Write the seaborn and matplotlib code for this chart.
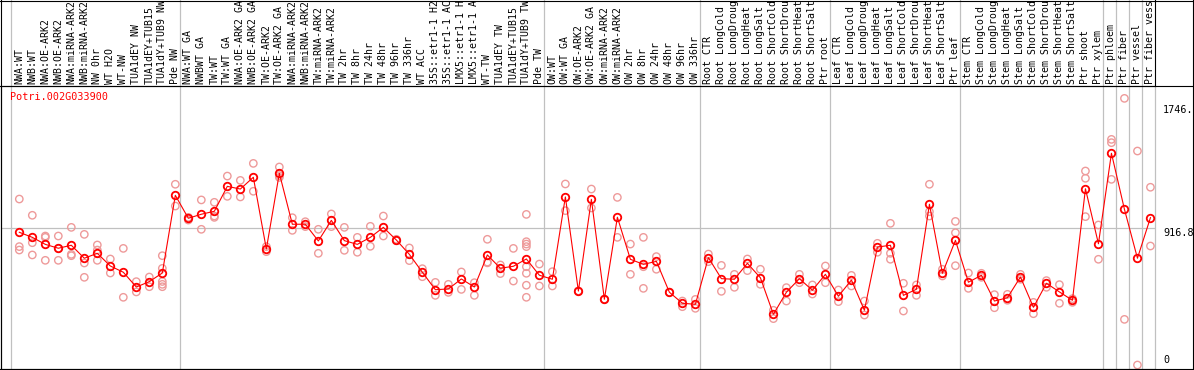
import matplotlib
matplotlib.use('Agg')
import matplotlib.pyplot as plt
import seaborn as sns
import pandas as pd
from matplotlib.lines import Line2D

gene = 'Potri.002G033900'

# sample names as far as they are visible above the plot
labels = [
    'NWA:WT', 'NWB:WT', 'NWA:OE-ARK2', 'NWB:OE-ARK2', 'NWA:miRNA-ARK2', 'NWB:miRNA-ARK2',
    'NW 0hr', 'WT H2O', 'WT-NW', 'TUA1dEY NW', 'TUA1dEY+TUB15', 'TUA1dY+TUB9 NW', 'Pde NW',
    'NWA:WT GA', 'NWBWT GA', 'TW:WT', 'TW:WT GA', 'NWA:OE-ARK2 GA', 'NWB:OE-ARK2 GA',
    'TW:OE-ARK2', 'TW:OE-ARK2 GA', 'NWA:miRNA-ARK2', 'NWB:miRNA-ARK2', 'TW:miRNA-ARK2',
    'TW:miRNA-ARK2', 'TW 2hr', 'TW 8hr', 'TW 24hr', 'TW 48hr', 'TW 96hr', 'TW 336hr',
    'WT ACC', '35S::etr1-1 H2', '35S::etr1-1 AC', 'LMX5::etr1-1 H', 'LMX5::etr1-1 A',
    'WT-TW', 'TUA1dEY TW', 'TUA1dEY+TUB15', 'TUA1dY+TUB9 TW', 'Pde TW',
    'OW:WT', 'OW:WT GA', 'OW:OE-ARK2', 'OW:OE-ARK2 GA', 'OW:miRNA-ARK2', 'OW:miRNA-ARK2',
    'OW 2hr', 'OW 8hr', 'OW 24hr', 'OW 48hr', 'OW 96hr', 'OW 336hr',
    'Root CTR', 'Root LongCold', 'Root LongDroug', 'Root LongHeat', 'Root LongSalt',
    'Root ShortCold', 'Root ShortDrou', 'Root ShortHeat', 'Root ShortSalt', 'Ptr root',
    'Leaf CTR', 'Leaf LongCold', 'Leaf LongDroug', 'Leaf LongHeat', 'Leaf LongSalt',
    'Leaf ShortCold', 'Leaf ShortDrou', 'Leaf ShortHeat', 'Leaf ShortSalt', 'Ptr leaf',
    'Stem CTR', 'Stem LongCold', 'Stem LongDroug', 'Stem LongHeat', 'Stem LongSalt',
    'Stem ShortCold', 'Stem ShortDrou', 'Stem ShortHeat', 'Stem ShortSalt', 'Ptr shoot',
    'Ptr xylem', 'Ptr phloem', 'Ptr fiber', 'Ptr vessel', 'Ptr fiber vess',
]

# number of samples in each block (separated by grey lines)
group_sizes = [13, 28, 12, 10, 10, 11, 1, 1, 1, 1]

means = [
    890, 856, 809, 783, 803, 716, 749, 664, 622, 523, 559, 617, 1138,
    984, 1011, 1031, 1198, 1180, 1259, 778, 1286, 944, 944, 832, 970, 834,
    809, 856, 923, 838, 742, 622, 505, 510, 577, 523, 738, 649, 662, 711, 602,
    575, 1127, 496, 1111, 441, 991, 709, 675, 695, 488, 414, 407,
    720, 579, 575, 682, 585, 340, 488, 579, 501, 608,
    461, 570, 367, 791, 803, 467, 508, 1078, 615, 836,
    555, 602, 429, 451, 590, 387, 548, 490, 434, 1182, 813,
    1420, 1044, 716, 988,
]

reps = [
    [1113, 794, 771], [1004, 820, 738], [865, 856, 702], [865, 781, 702],
    [923, 742, 733], [876, 684, 588], [805, 771, 702], [711, 617], [782, 454],
    [559, 490], [590, 525], [733, 648, 560, 541, 525], [1212, 1066],
    [990, 972], [1107, 910], [1091, 999, 990], [1267, 1131], [1238, 1127],
    [1352, 1165], [794, 760], [1328, 1258, 1270], [988, 903], [961, 928],
    [910, 749], [1013, 928], [923, 769], [856, 756], [930, 796], [999, 865],
    [843, 834], [785, 700], [646, 592], [554, 467], [541, 487], [624, 507],
    [552, 467], [843, 685, 690], [671, 613], [782, 563],
    [1010, 827, 811, 794, 659, 615, 535, 454], [677, 530],
    [626, 530], [1214, 1035], [496, 496], [1180, 1053], [441, 441],
    [1124, 856], [811, 608], [856, 659, 514], [727, 642], [488, 488],
    [429, 391], [440, 380],
    [744, 693], [668, 494], [608, 521], [711, 633], [642, 541], [367, 311],
    [519, 429], [608, 552], [537, 476], [664, 552],
    [503, 425], [601, 530], [429, 335], [816, 756], [950, 749, 709],
    [548, 362], [537, 467], [1212, 1028, 999], [642, 597], [963, 887, 666],
    [617, 514], [615, 588], [472, 384], [474, 434], [608, 575], [420, 344],
    [566, 521], [539, 414], [445, 420], [1301, 1252, 995], [939, 709],
    [1513, 1491, 1245], [1788, 306], [1435, 0], [1192, 798],
]

ytick_vals = [0, 916.8, 1746]
ytick_text = ['0', '916.8', '1746.']

W, H = 1194, 370

def fx(px):
    return px / W

def fy(py):
    return 1 - py / H

mean_df = pd.DataFrame({'pos': range(len(labels)), 'value': means})
rep_df = pd.DataFrame([(i, v) for i, vals in enumerate(reps) for v in vals],
                      columns=['pos', 'value'])

plt.rcParams['font.family'] = 'DejaVu Sans Mono'
fig = plt.figure(figsize=(W / 100, H / 100), dpi=100)
ax = fig.add_axes([fx(1), fy(369), (1155 - 1) / W, (369 - 86) / H])

grey = '#c0c0c0'
ax.axhline(916.8, color=grey, lw=0.9, zorder=0)

edges = [0]
for n in group_sizes:
    edges.append(edges[-1] + n)
for e in edges[:-1]:
    ax.axvline(e - 0.65, ymin=0, ymax=369 / 283, color=grey, lw=0.9,
               clip_on=False, zorder=0)

sns.scatterplot(data=rep_df, x='pos', y='value', ax=ax, marker='o', s=28,
                facecolor='none', edgecolor='#ee9a9a', linewidth=1.0, zorder=2)
sns.lineplot(data=mean_df, x='pos', y='value', ax=ax, color='red', lw=0.8,
             marker='o', ms=5.4, mfc='none', mec='red', mew=1.3, zorder=3)

ax.set_xlim(-1.408, len(labels) - 0.65)
ax.set_ylim(-26.8, 1871)

ax.xaxis.tick_top()
ax.set_xticks(range(len(labels)))
ax.set_xticklabels(labels, rotation=90, fontsize=7.1)
ax.tick_params(axis='x', length=0, pad=1.5)

ax.yaxis.tick_right()
ax.set_yticks(ytick_vals)
ax.set_yticklabels(ytick_text, fontsize=7.3)
ax.tick_params(axis='y', length=0, pad=5.8)
for t, va in zip(ax.get_yticklabels(), ['bottom', 'top', 'top']):
    t.set_va(va)

ax.set_xlabel('')
ax.set_ylabel('')
for side in ['left', 'bottom', 'top']:
    ax.spines[side].set_color('black')
    ax.spines[side].set_linewidth(0.8)
ax.spines['right'].set_color(grey)
ax.spines['right'].set_linewidth(0.9)

ax.text(fx(10), fy(97), gene, transform=fig.transFigure, color='red',
        fontsize=7.3, va='center', ha='left')

# outer frame and label-area separators
frame = [
    ([fx(1), fx(1)], [0, 1]),
    ([fx(1193), fx(1193)], [0, 1]),
    ([0, 1], [fy(0.5), fy(0.5)]),
    ([0, 1], [fy(369), fy(369)]),
    ([0, 1], [fy(86), fy(86)]),
    ([fx(1155), fx(1155)], [fy(86), 1]),
]
for xs, ys in frame:
    fig.add_artist(Line2D(xs, ys, transform=fig.transFigure, color='black', lw=0.8))

plt.savefig('out.png', dpi=100)
